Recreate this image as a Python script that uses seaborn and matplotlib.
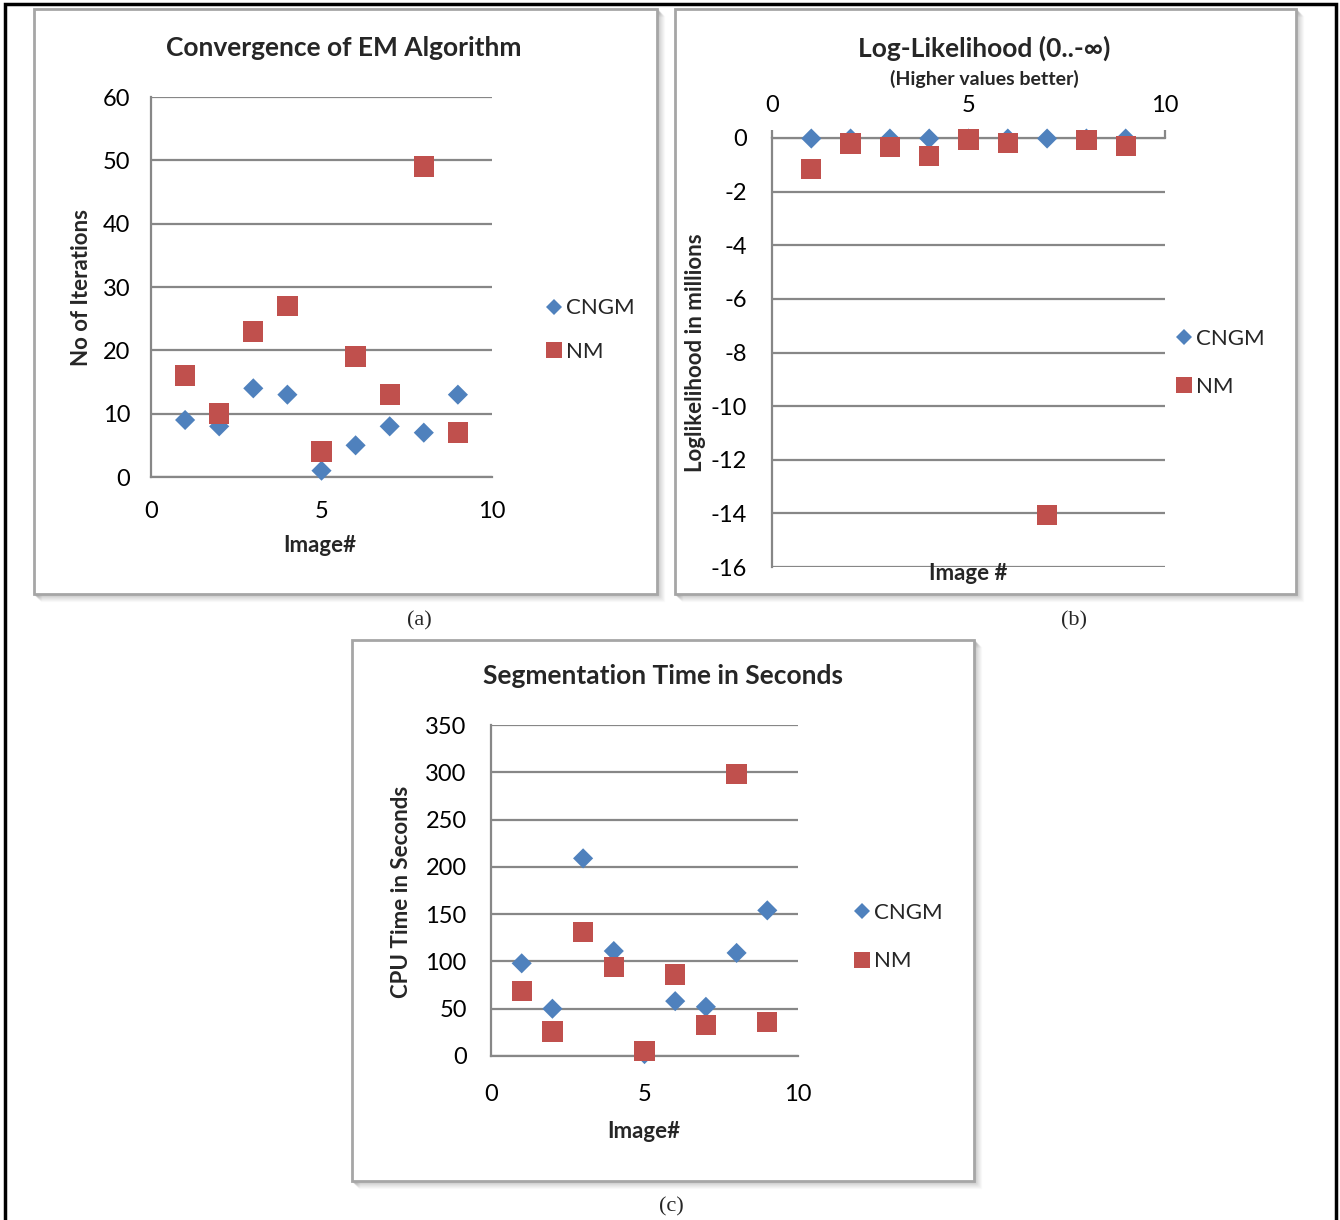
import numpy as np
import pandas as pd
import matplotlib
matplotlib.use("Agg")
import matplotlib.pyplot as plt
import seaborn as sns
from matplotlib import font_manager
from matplotlib.lines import Line2D
from matplotlib.patches import Rectangle

# ---- data ----
images = [1, 2, 3, 4, 5, 6, 7, 8, 9]
methods = ["CNGM", "NM"]

iter_cngm = [9, 8, 14, 13, 1, 5, 8, 7, 13]
iter_nm = [16, 10, 23, 27, 4, 19, 13, 49, 7]

ll_cngm = [-0.02, -0.02, -0.02, -0.02, -0.02, -0.02, -0.02, -0.02, -0.02]
ll_nm = [-1.15, -0.2, -0.34, -0.67, -0.05, -0.19, -14.06, -0.08, -0.3]

time_cngm = [98, 50, 209, 111, 2, 58, 52, 109, 154]
time_nm = [69, 26, 131, 94, 5, 86, 33, 298, 36]

xticks = [0, 5, 10]
iter_ticks = [0, 10, 20, 30, 40, 50, 60]
ll_ticks = [0, -2, -4, -6, -8, -10, -12, -14, -16]
time_ticks = [0, 50, 100, 150, 200, 250, 300, 350]

# ---- style ----
names = set(f.name for f in font_manager.fontManager.ttflist)
sans = "Lato" if "Lato" in names else "DejaVu Sans"
serif = "Liberation Serif" if "Liberation Serif" in names else "DejaVu Serif"

sns.set_theme(style="white")
plt.rcParams["font.family"] = [sans, "DejaVu Sans"]
plt.rcParams["axes.unicode_minus"] = False

BLUE = "#4F81BD"
RED = "#C0504D"
GRID = "#878787"
palette = {"CNGM": BLUE, "NM": RED}
markers = {"CNGM": "D", "NM": "s"}
sizes = {"CNGM": 105, "NM": 215}

W, H = 1340, 1220
fig = plt.figure(figsize=(W / 100, H / 100), dpi=100)


def fx(x):
    return x / W


def fy(y):
    return 1 - y / H


def long_df(a, b):
    return pd.DataFrame({
        "Image": images * 2,
        "Value": a + b,
        "Method": ["CNGM"] * len(a) + ["NM"] * len(b),
    })


def panel_box(x0, y0, x1, y1):
    # soft shadow then the grey frame
    for k, a in zip(range(1, 8), [0.16, 0.13, 0.10, 0.08, 0.06, 0.04, 0.02]):
        fig.patches.append(Rectangle((fx(x0 + k), fy(y1 + k)), fx(x1 - x0), (y1 - y0) / H,
                                     transform=fig.transFigure, facecolor="none",
                                     edgecolor=(0, 0, 0, a), lw=1.0, zorder=0))
    fig.patches.append(Rectangle((fx(x0), fy(y1)), fx(x1 - x0), (y1 - y0) / H,
                                 transform=fig.transFigure, facecolor="white",
                                 edgecolor="#A6A6A6", lw=2.0, zorder=1))


def make_axes(x0, y0, x1, y1):
    return fig.add_axes([fx(x0), fy(y1), fx(x1 - x0), (y1 - y0) / H], zorder=2)


def style_axes(ax, yticks, pad_x, pad_y):
    ax.set_facecolor("none")
    for s in ["top", "right", "bottom", "left"]:
        ax.spines[s].set_visible(False)
    ax.spines["left"].set_visible(True)
    ax.spines["left"].set_color(GRID)
    ax.spines["left"].set_linewidth(1.6)
    ax.set_yticks(yticks)
    ax.set_xticks(xticks)
    ax.set_xlim(0, 10)
    ax.yaxis.grid(True, color=GRID, lw=1.6)
    ax.xaxis.grid(False)
    ax.set_axisbelow(True)
    ax.tick_params(axis="x", length=0, pad=pad_x, labelsize=17, colors="black")
    ax.tick_params(axis="y", length=0, pad=pad_y, labelsize=17, colors="black")
    ax.set_xlabel("")
    ax.set_ylabel("")


def scatter(ax, a, b):
    sns.scatterplot(data=long_df(a, b), x="Image", y="Value", hue="Method",
                    style="Method", size="Method", palette=palette, markers=markers,
                    sizes=sizes, linewidth=0, legend=False, ax=ax, zorder=3, clip_on=False)


def legend(ax, x, y, gap):
    handles = [Line2D([], [], ls="none", marker="D", color=BLUE, markersize=8, mew=0),
               Line2D([], [], ls="none", marker="s", color=RED, markersize=11, mew=0)]
    ax.legend(handles, methods, loc="center left", bbox_to_anchor=(fx(x), fy(y)),
              bbox_transform=fig.transFigure, frameon=False, fontsize=16,
              handlelength=0.6, handletextpad=0.25, labelspacing=gap, borderpad=0)


# outer border
fig.patches.append(Rectangle((fx(5), fy(1240)), fx(1331), 1236 / H, transform=fig.transFigure,
                             facecolor="none", edgecolor="black", lw=2.5, zorder=0))

# ---- (a) convergence ----
panel_box(34, 9, 657, 594)
ax1 = make_axes(151, 97, 492, 477)
scatter(ax1, iter_cngm, iter_nm)
ax1.set_ylim(0, 60)
style_axes(ax1, iter_ticks, 17, 15)
ax1.spines["bottom"].set_visible(True)
ax1.spines["bottom"].set_color(GRID)
ax1.spines["bottom"].set_linewidth(1.6)
legend(ax1, 536, 330, 1.05)
fig.text(fx(344), fy(48), "Convergence of EM Algorithm", ha="center", va="center",
         fontsize=19, fontweight="bold")
fig.text(fx(320), fy(546), "Image#", ha="center", va="center", fontsize=16, fontweight="bold")
fig.text(fx(82), fy(288), "No of Iterations", ha="center", va="center", rotation=90,
         fontsize=16, fontweight="bold")
fig.text(fx(419), fy(621), "(a)", ha="center", va="center", fontsize=16, family=serif)

# ---- (b) log-likelihood ----
panel_box(675, 9, 1296, 594)
ax2 = make_axes(772, 138, 1165, 567)
scatter(ax2, ll_cngm, ll_nm)
ax2.set_ylim(-16, 0)
style_axes(ax2, ll_ticks, 11, 18)
ax2.xaxis.tick_top()
ax2.spines["top"].set_visible(True)
ax2.spines["top"].set_color(GRID)
ax2.spines["top"].set_linewidth(1.6)
ax2.tick_params(axis="x", length=6, width=1.6, color=GRID, direction="out", pad=10)
legend(ax2, 1166, 363, 1.25)
fig.text(fx(984), fy(48), "Log-Likelihood (0..-\u221e)", ha="center", va="center",
         fontsize=19, fontweight="bold")
fig.text(fx(984), fy(79), "(Higher values better)", ha="center", va="center",
         fontsize=14, fontweight="bold")
fig.text(fx(968), fy(574), "Image #", ha="center", va="center", fontsize=16,
         fontweight="bold", zorder=5)
fig.text(fx(695), fy(353), "Loglikelihood in millions", ha="center", va="center",
         rotation=90, fontsize=16, fontweight="bold")
fig.text(fx(1074), fy(621), "(b)", ha="center", va="center", fontsize=16, family=serif)

# ---- (c) segmentation time ----
panel_box(352, 640, 974, 1181)
ax3 = make_axes(491, 725, 798, 1056)
scatter(ax3, time_cngm, time_nm)
ax3.set_ylim(0, 350)
style_axes(ax3, time_ticks, 20, 17.5)
ax3.spines["bottom"].set_visible(True)
ax3.spines["bottom"].set_color(GRID)
ax3.spines["bottom"].set_linewidth(1.6)
legend(ax3, 844, 937, 1.3)
fig.text(fx(663), fy(676), "Segmentation Time in Seconds", ha="center", va="center",
         fontsize=19, fontweight="bold")
fig.text(fx(644), fy(1131), "Image#", ha="center", va="center", fontsize=16, fontweight="bold")
fig.text(fx(402), fy(892), "CPU Time in Seconds", ha="center", va="center", rotation=90,
         fontsize=16, fontweight="bold")
fig.text(fx(671), fy(1207), "(c)", ha="center", va="center", fontsize=16, family=serif)

fig.savefig("out.png", dpi=100, facecolor="white")
